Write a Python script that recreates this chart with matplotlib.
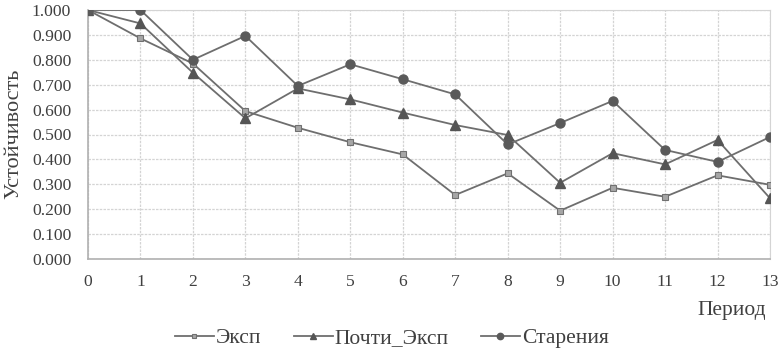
import matplotlib
matplotlib.use("Agg")
import matplotlib.pyplot as plt

periods = list(range(14))
eksp = [1.000, 0.886, 0.785, 0.594, 0.527, 0.469, 0.420, 0.257, 0.344, 0.194, 0.286, 0.250, 0.336, 0.298]
pochti = [1.000, 0.946, 0.748, 0.565, 0.685, 0.641, 0.588, 0.538, 0.498, 0.306, 0.425, 0.380, 0.478, 0.244]
starenia = [1.000, 1.000, 0.800, 0.896, 0.695, 0.782, 0.722, 0.661, 0.460, 0.546, 0.635, 0.438, 0.390, 0.490]
yticks = [0.0, 0.1, 0.2, 0.3, 0.4, 0.5, 0.6, 0.7, 0.8, 0.9, 1.0]

plt.rcParams['font.family'] = ['Liberation Serif', 'DejaVu Serif']

fig = plt.figure(figsize=(7.8, 3.53), dpi=100)
ax = fig.add_axes([88/780, 1-259/353, (770-88)/780, (259-10)/353])

line_c = '#6e6e6e'
ax.plot(periods, eksp, color=line_c, lw=1.3, marker='s', ms=5, mfc='#a6a6a6', mec='#707070', mew=0.8, label='Эксп', zorder=3)
ax.plot(periods, pochti, color=line_c, lw=1.3, marker='^', ms=6.5, mfc='#555555', mec='#555555', label='Почти_Эксп', zorder=3)
ax.plot(periods, starenia, color=line_c, lw=1.3, marker='o', ms=6.5, mfc='#5a5a5a', mec='#5a5a5a', label='Старения', zorder=3)

ax.set_xlim(0, 13)
ax.set_ylim(0, 1.0)
ax.set_xticks(periods)
ax.set_yticks(yticks)
ax.set_yticklabels([f"{v:.3f}" for v in yticks])
ax.grid(True, color='#d4d4d4', lw=0.9, ls=(0, (2, 1)))
ax.set_axisbelow(True)
for s in ['top', 'right']:
    ax.spines[s].set_color('#d4d4d4')
for s in ['left', 'bottom']:
    ax.spines[s].set_color('#b0b0b0')
    ax.spines[s].set_linewidth(1.2)
ax.tick_params(length=0, labelsize=12.6, colors='#404040')
ax.tick_params(axis='x', pad=11)
ax.tick_params(axis='y', pad=12)

fig.text(14/780, 1-134/353, 'Устойчивость', rotation=90, ha='center', va='center', fontsize=16, color='#404040')
fig.text(766/780, 1-311/353, 'Период', ha='right', va='center', fontsize=15.5, color='#404040')

leg = fig.legend(loc='center', bbox_to_anchor=(392/780, 1-338/353), ncol=3, frameon=False,
                 fontsize=15.5, handlelength=1.8, columnspacing=1.5, handletextpad=0.1,
                 markerscale=0.7, borderpad=0, borderaxespad=0)
for t in leg.get_texts():
    t.set_color('#404040')

fig.savefig('out.png', dpi=100)
